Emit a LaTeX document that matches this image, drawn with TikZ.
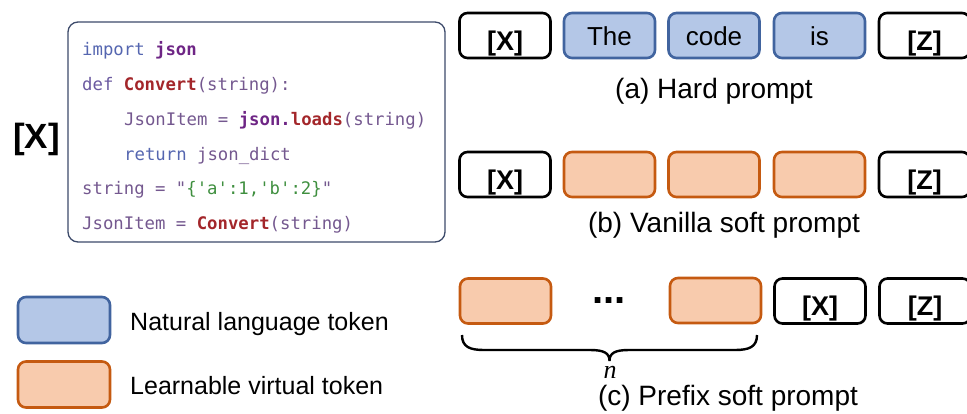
\documentclass[tikz,border=0pt]{standalone}
\usepackage{fontspec}
\setmainfont{Liberation Sans}
\newfontfamily\codefont[Ligatures=TeXOff]{DejaVu Sans Mono}
\newfontfamily\nfont{Liberation Serif}
\definecolor{blueS}{HTML}{41649F}
\definecolor{blueF}{HTML}{B4C7E7}
\definecolor{oranS}{HTML}{C55A11}
\definecolor{oranF}{HTML}{F8CBAD}
\definecolor{codeframe}{HTML}{3C4A6A}
\definecolor{ckw}{HTML}{5566B0}
\definecolor{cdef}{HTML}{6B5AA0}
\definecolor{cid}{HTML}{74588F}
\definecolor{cjson}{HTML}{6E2585}
\definecolor{cred}{HTML}{A3262A}
\definecolor{cgreen}{HTML}{3F8F3F}
\newcommand{\kw}[1]{\textcolor{ckw}{#1}}
\newcommand{\idf}[1]{\textcolor{cid}{#1}}
\newcommand{\jsn}[1]{\textcolor{cjson}{\bfseries #1}}
\newcommand{\rdb}[1]{\textcolor{cred}{\bfseries #1}}
\newcommand{\grn}[1]{\textcolor{cgreen}{#1}}
\begin{document}
\begin{tikzpicture}[x=1pt,y=-1pt,
  tok/.style={draw, rounded corners=8pt, line width=2.6pt, minimum width=91pt,
    minimum height=45pt, inner sep=0pt, anchor=center,
    font=\fontsize{26}{30}\selectfont},
  hard/.style={tok, draw=blueS, fill=blueF, text height=20pt, text depth=0pt},
  soft/.style={tok, draw=oranS, fill=oranF},
  var/.style={tok, draw=black, fill=white, text height=29pt, text depth=0pt,
    font=\fontsize{27}{30}\selectfont\bfseries},
  captxt/.style={anchor=base, inner sep=0pt, font=\fontsize{28}{32}\selectfont},
  codeline/.style={anchor=base west, inner sep=0pt, font=\codefont\fontsize{17.3}{20}\selectfont},
  legtext/.style={anchor=base west, inner sep=0pt, font=\fontsize{25}{30}\selectfont},
  legbox/.style={draw, rounded corners=8pt, line width=2.6pt, minimum width=92pt,
    minimum height=46pt, inner sep=0pt}
]
\useasboundingbox (0,0) rectangle (967,413);

% code box
\node[draw=codeframe, line width=1.3pt, rounded corners=10pt, minimum width=377pt,
  minimum height=220pt, inner sep=0pt] (codebox) at (256.5,132) {};
\node[codeline] (l1) at (82,55.7) {\kw{import} \jsn{json}};
\node[codeline] (l2) at (82,90.5) {\textcolor{cdef}{def} \rdb{Convert}\idf{(string):}};
\node[codeline] (l3) at (124,125.3) {\idf{JsonItem =} \jsn{json.}\rdb{loads}\idf{(string)}};
\node[codeline] (l4) at (124,160.1) {\kw{return} \idf{json\_dict}};
\node[codeline] (l5) at (82,194.9) {\idf{string = "}\grn{\{'a':1,'b':2\}}\idf{"}};
\node[codeline] (l6) at (82,229.7) {\idf{JsonItem =} \rdb{Convert}\idf{(string)}};

% big [X]
\node[anchor=base west, inner sep=0pt, font=\fontsize{35}{40}\selectfont\bfseries] (bigx) at (13,148) {[X]};

% row a
\node[var]  (ax) at (505,35.5) {[X]};
\node[hard] (a1) at (609.5,35.5) {The};
\node[hard] (a2) at (714,35.5) {code};
\node[hard] (a3) at (819.5,35.5) {is};
\node[var]  (az) at (924.5,35.5) {[Z]};
\node[captxt]  (capa) at (714,98) {(a) Hard prompt};

% row b
\node[var]  (bx) at (505,174.5) {[X]};
\node[soft] (b1) at (609.5,174.5) {};
\node[soft] (b2) at (714,174.5) {};
\node[soft] (b3) at (819.5,174.5) {};
\node[var]  (bz) at (924.5,174.5) {[Z]};
\node[captxt]  (capb) at (724,232) {(b) Vanilla soft prompt};

% row c
\node[soft] (c1) at (505.5,301) {};
\node[anchor=base west, inner sep=0pt, font=\fontsize{40}{40}\selectfont\bfseries] (dots) at (592,303) {...};
\node[soft] (c2) at (715.5,300.5) {};
\node[var]  (cx) at (820,301) {[X]};
\node[var]  (cz) at (925,301) {[Z]};
\coordinate (brL) at (462,335);
\coordinate (brR) at (757,335);
\coordinate (brT) at (609.5,361);
\draw[line width=2.4pt] (brL) .. controls (462,347) and (470,350) .. (484,350)
  -- (590,350) .. controls (604,350) and (609.5,353) .. (brT)
  .. controls (609.5,353) and (615,350) .. (629,350)
  -- (735,350) .. controls (749,350) and (757,347) .. (brR);
\node[anchor=base, inner sep=0pt, font=\nfont\itshape\fontsize{26}{28}\selectfont] (nlab) at (610,378) {n};
\node[captxt]  (capc) at (728,405) {(c) Prefix soft prompt};

% legend
\node[legbox, draw=blueS, fill=blueF] (legA) at (64,320) {};
\node[legbox, draw=oranS, fill=oranF] (legB) at (64,384.5) {};
\node[legtext] (legAt) at (130,330) {Natural language token};
\node[legtext] (legBt) at (130,394) {Learnable virtual token};
\end{tikzpicture}
\end{document}
